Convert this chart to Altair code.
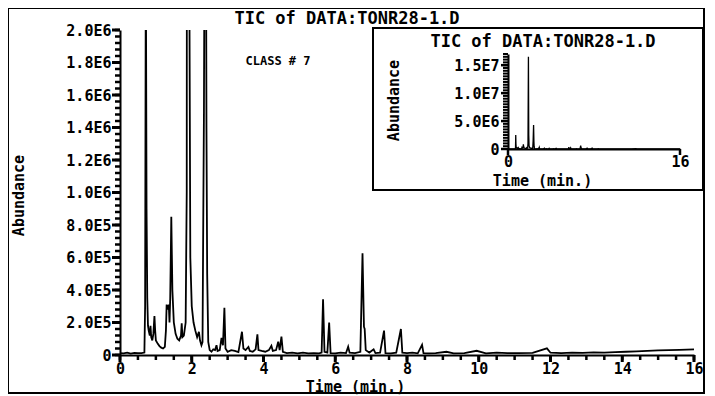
import altair as alt
import pandas as pd

# Retention time (min) and abundance
times = [0.00, 0.10, 0.20, 0.30, 0.40, 0.50, 0.60, 0.68, 0.70, 0.72, 0.74, 0.76, 0.78, 0.80,
         0.83, 0.85, 0.87, 0.90, 0.93, 0.96, 0.98, 1.00, 1.05, 1.10, 1.15, 1.20, 1.25, 1.28,
         1.30, 1.33, 1.36, 1.38, 1.40, 1.43, 1.46, 1.50, 1.55, 1.60, 1.65, 1.70, 1.72, 1.74,
         1.78, 1.83, 1.86, 1.90, 1.93, 1.96, 2.00, 2.05, 2.10, 2.15, 2.20, 2.23, 2.27, 2.30,
         2.34, 2.38, 2.41, 2.43, 2.46, 2.50, 2.55, 2.60, 2.65, 2.69, 2.72, 2.78, 2.83, 2.87,
         2.91, 2.94, 3.00, 3.10, 3.20, 3.30, 3.40, 3.44, 3.50, 3.58, 3.62, 3.70, 3.78, 3.83,
         3.86, 3.95, 4.05, 4.15, 4.22, 4.26, 4.35, 4.41, 4.45, 4.50, 4.54, 4.65, 4.80, 4.95,
         5.10, 5.25, 5.40, 5.55, 5.62, 5.66, 5.70, 5.78, 5.83, 5.87, 6.00, 6.15, 6.30, 6.36,
         6.40, 6.55, 6.70, 6.76, 6.80, 6.82, 6.85, 6.95, 7.07, 7.12, 7.25, 7.36, 7.40, 7.55,
         7.70, 7.83, 7.87, 8.00, 8.15, 8.30, 8.42, 8.46, 8.60, 8.80, 9.10, 9.30, 9.60, 9.94,
         10.2, 10.5, 10.8, 11.1, 11.5, 11.9, 12.0, 12.3, 12.6, 12.9, 13.2, 13.5, 13.8, 14.1,
         14.4, 14.7, 15.0, 15.3, 15.6, 16.0]
abundance_k = [12, 10, 14, 9, 13, 11, 12, 15, 300, 2500, 900, 350, 180, 150,
               120, 180, 110, 90, 130, 240, 150, 90, 70, 55, 45, 40, 50, 150,
               310, 280, 310, 200, 350, 850, 400, 200, 130, 100, 90, 120, 195, 110,
               120, 200, 1000, 16500, 2500, 600, 300, 200, 150, 110, 143, 90, 60, 80,
               1500, 4300, 1400, 500, 80, 30, 20, 35, 30, 60, 25, 30, 105, 60,
               290, 40, 20, 30, 25, 18, 143, 40, 30, 50, 25, 20, 35, 127,
               30, 25, 20, 30, 57, 25, 30, 82, 30, 113, 20, 12, 15, 10,
               14, 10, 12, 10, 15, 343, 20, 15, 199, 12, 10, 14, 12, 51,
               14, 12, 20, 626, 174, 160, 30, 15, 35, 12, 15, 150, 12, 10,
               14, 160, 15, 12, 15, 10, 62, 12, 10, 12, 20, 10, 12, 26,
               10, 14, 11, 12, 13, 41, 14, 12, 15, 13, 16, 15, 18, 20,
               22, 25, 28, 30, 32, 35]

# axis tick values
main_x_major = [0, 2, 4, 6, 8, 10, 12, 14, 16]
main_x_minor = [i * 0.5 for i in range(33)]
main_y_major = [i * 200000 for i in range(11)]
main_y_minor = [i * 40000 for i in range(51)]
inset_x_major = [0, 16]
inset_y_major = [0, 5000000, 10000000, 15000000]
inset_y_minor = [i * 500000 for i in range(35)]

title_text = "TIC of DATA:TONR28-1.D"
class_text = "CLASS # 7"

df = pd.DataFrame({"t": times, "v": [a * 1000 for a in abundance_k]})

FONT = "DejaVu Sans Mono"
sci_label = "datum.value == 0 ? '0' : replace(format(datum.value, '.1e'), 'e+', 'E')"

MX = alt.Scale(domain=[0, 16], nice=False, zero=False)
MY = alt.Scale(domain=[0, 2000000], nice=False)
IX = alt.Scale(domain=[0, 16], range=[388, 560], nice=False, zero=False)
IY = alt.Scale(domain=[0, 17000000], range=[119, 24], nice=False)

common_axis = dict(
    domainColor="black", domainWidth=2, ticks=False,
    labelColor="black", labelFont=FONT, labelFontWeight="bold", labelFontSize=15,
    titleColor="black", titleFont=FONT, titleFontWeight="bold", titleFontSize=15,
    labelOverlap=False, labelFlush=False, grid=False,
)

main_line = alt.Chart(df).mark_line(color="black", strokeWidth=1.8, clip=True).encode(
    x=alt.X("t:Q", scale=MX,
            axis=alt.Axis(orient="bottom", values=main_x_major, format="d",
                          labelPadding=6, title="Time (min.)",
                          titleX=235, titleY=31, titleAlign="center", titleBaseline="middle",
                          **common_axis)),
    y=alt.Y("v:Q", scale=MY,
            axis=alt.Axis(orient="left", values=main_y_major, labelExpr=sci_label,
                          labelPadding=9, title="Abundance",
                          titleX=-102, titleY=165, titleAngle=270,
                          titleAlign="center", titleBaseline="middle",
                          **common_axis)),
)

inset_line = alt.Chart(df).mark_line(color="black", strokeWidth=1.3).encode(
    x=alt.X("t:Q", scale=IX,
            axis=alt.Axis(orient="bottom", offset=-206, values=inset_x_major,
                          format="d", labelPadding=5, title="Time (min.)",
                          titleX=422, titleY=31, titleAlign="center", titleBaseline="middle",
                          **common_axis)),
    y=alt.Y("v:Q", scale=IY,
            axis=alt.Axis(orient="left", offset=-388, values=inset_y_major, labelExpr=sci_label,
                          labelPadding=9, title="Abundance",
                          titleX=-115, titleY=70, titleAngle=270,
                          titleAlign="center", titleBaseline="middle",
                          **common_axis)),
)


def xticks(vals, scale, y0, y1, w):
    return alt.Chart(pd.DataFrame({"tick": vals})).mark_rule(color="black", strokeWidth=w).encode(
        x=alt.X("tick:Q", scale=scale, axis=None), y=alt.value(y0), y2=alt.value(y1))


def yticks(vals, scale, x0, x1, w):
    return alt.Chart(pd.DataFrame({"tick": vals})).mark_rule(color="black", strokeWidth=w).encode(
        y=alt.Y("tick:Q", scale=scale, axis=None), x=alt.value(x0), x2=alt.value(x1))


tick_layers = [
    xticks(main_x_minor, MX, 325, 330, 2.5),
    xticks(main_x_major, MX, 325, 332, 3),
    yticks(main_y_minor, MY, -5, 0, 2.5),
    yticks(main_y_major, MY, -8, 0, 3),
    xticks(inset_x_major, IX, 119, 125, 2.5),
    yticks(inset_y_minor, IY, 383, 388, 2),
    yticks(inset_y_major, IY, 381, 388, 2.5),
]

one = pd.DataFrame({"label": [title_text]})
main_title = alt.Chart(one).mark_text(font=FONT, fontWeight="bold", fontSize=17, color="black").encode(
    text="label:N", x=alt.value(227), y=alt.value(-11))
inset_title = alt.Chart(one).mark_text(font=FONT, fontWeight="bold", fontSize=17, color="black").encode(
    text="label:N", x=alt.value(423), y=alt.value(12))
class_lbl = alt.Chart(pd.DataFrame({"label": [class_text]})).mark_text(
    font=FONT, fontWeight="bold", fontSize=12, color="black").encode(
    text="label:N", x=alt.value(158), y=alt.value(31))

inset_box = alt.Chart(pd.DataFrame({"a": [0]})).mark_rect(
    filled=False, stroke="black", strokeWidth=2).encode(
    x=alt.value(253), x2=alt.value(583), y=alt.value(-2), y2=alt.value(160))
outer_box = alt.Chart(pd.DataFrame({"a": [0]})).mark_rect(
    filled=False, stroke="black", strokeWidth=2).encode(
    x=alt.value(-112), x2=alt.value(584), y=alt.value(-22), y2=alt.value(363))

chart = alt.layer(
    outer_box, inset_box, main_line, inset_line, *tick_layers, main_title, inset_title, class_lbl
).resolve_scale(x="independent", y="independent").properties(
    width=574, height=325,
    autosize=alt.AutoSizeParams(type="none"),
    padding={"left": 112, "top": 22, "right": 13, "bottom": 40},
    background="white",
).configure_view(stroke=None)

chart.save("out.html", embed_options={"renderer": "svg", "actions": False})
